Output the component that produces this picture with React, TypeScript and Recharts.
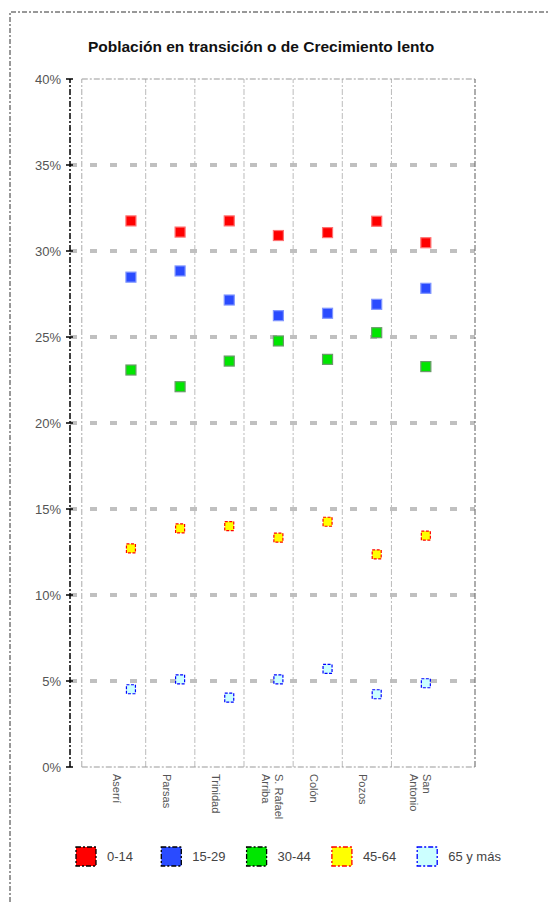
import React from "react";
import { ReferenceLine, Scatter, ScatterChart, XAxis, YAxis } from "recharts";

const categories = ["Aserrí", "Parsas", "Trinidad", "S. Rafael\nArriba", "Colón", "Pozos", "San\nAntonio"];
const edad0a14 = [31.75, 31.1, 31.75, 30.9, 31.07, 31.73, 30.48];
const edad15a29 = [28.48, 28.84, 27.15, 26.24, 26.38, 26.9, 27.83];
const edad30a44 = [23.08, 22.11, 23.6, 24.77, 23.7, 25.25, 23.28];
const edad45a64 = [12.71, 13.87, 14.01, 13.33, 14.26, 12.36, 13.45];
const edad65 = [4.52, 5.1, 4.03, 5.1, 5.7, 4.23, 4.87];
const yTicks = [0, 5, 10, 15, 20, 25, 30, 35, 40];

const FONT = '"Liberation Sans", Arial, sans-serif';
const X_MIN = -1.24;
const X_MAX = 7;

const series = [
  { name: "0-14", values: edad0a14, fill: "#ff0000", stroke: "#ff7070", dash: undefined, legendStroke: "#000", size: 10 },
  { name: "15-29", values: edad15a29, fill: "#2a4bff", stroke: "#7f95ff", dash: undefined, legendStroke: "#000", size: 10 },
  { name: "30-44", values: edad30a44, fill: "#00e600", stroke: "#6a9a6a", dash: undefined, legendStroke: "#000", size: 10 },
  { name: "45-64", values: edad45a64, fill: "#ffff00", stroke: "#ff0000", dash: "3 1.5", legendStroke: "#ff0000", size: 9 },
  { name: "65 y más", values: edad65, fill: "#ccffff", stroke: "#0000ff", dash: "3 1.5", legendStroke: "#0000ff", size: 9 },
];

function makeShape(s: (typeof series)[number]) {
  return (props: any) => {
    const { cx, cy } = props;
    const h = s.size / 2;
    return (
      <rect
        x={cx - h}
        y={cy - h}
        width={s.size}
        height={s.size}
        fill={s.fill}
        stroke={s.stroke}
        strokeWidth={1.2}
        strokeDasharray={s.dash}
      />
    );
  };
}

function YTick(props: any) {
  const { x, y, payload } = props;
  return (
    <g>
      <line x1={x - 4} x2={x + 3} y1={y} y2={y} stroke="#000" strokeWidth={1.5} />
      <text x={x - 9} y={y + 4.5} textAnchor="end" fontSize={13} fontFamily={FONT} fill="#555">
        {payload.value}%
      </text>
    </g>
  );
}

function XTick(props: any) {
  const { x, y, payload } = props;
  const lines = categories[payload.value].split("\n");
  const tx = x - 17.5 + (lines.length - 1) * 14.5;
  return (
    <text transform={`translate(${tx},${y + 7}) rotate(90)`} fontSize={11} fontFamily={FONT} fill="#555">
      {lines.map((l, k) => (
        <tspan key={k} x={0} dy={k === 0 ? 0 : 13}>
          {l}
        </tspan>
      ))}
    </text>
  );
}

export default function App() {
  const dividers = categories.slice(1).map((_, i) => i + 0.3);
  return (
    <div style={{ position: "absolute", left: 0, top: 0, width: 548, height: 902, background: "#fff", fontFamily: FONT }}>
      <svg width={548} height={902} style={{ position: "absolute", left: 0, top: 0 }}>
        <path d="M10 902 L10 12 L548 12" fill="none" stroke="#333" strokeWidth={1} strokeDasharray="5 2 2 2" />
      </svg>
      <div
        style={{
          position: "absolute",
          left: 0,
          width: 522,
          top: 38,
          textAlign: "center",
          fontSize: 15.5,
          fontWeight: "bold",
          color: "#111",
        }}
      >
        Población en transición o de Crecimiento lento
      </div>
      <div style={{ position: "absolute", left: 0, top: 0 }}>
        <ScatterChart width={548} height={902} margin={{ top: 79, right: 73, left: 0, bottom: 75 }}>
          <XAxis
            type="number"
            dataKey="i"
            domain={[X_MIN, X_MAX]}
            ticks={categories.map((_, i) => i)}
            allowDataOverflow
            height={60}
            axisLine={false}
            tickLine={false}
            tickSize={0}
            tickMargin={0}
            tick={<XTick />}
            interval={0}
          />
          <YAxis
            type="number"
            dataKey="v"
            domain={[0, 40]}
            ticks={yTicks}
            allowDataOverflow
            width={70}
            axisLine={false}
            tickLine={false}
            tickSize={0}
            tickMargin={0}
            tick={<YTick />}
            interval={0}
          />
          {yTicks
            .filter((t) => t > 0 && t < 40)
            .map((t) => (
              <ReferenceLine key={t} y={t} stroke="#c0c0c0" strokeWidth={4} strokeDasharray="7 13" />
            ))}
          {dividers.map((d) => (
            <ReferenceLine key={d} x={d} stroke="#bcbcbc" strokeWidth={1} strokeDasharray="6 2 2 2" />
          ))}
          <ReferenceLine
            segment={[{ x: -1, y: 40 }, { x: X_MAX, y: 40 }]}
            stroke="#999"
            strokeWidth={1}
            strokeDasharray="6 2 2 2"
          />
          <ReferenceLine
            segment={[{ x: -1, y: 0 }, { x: X_MAX, y: 0 }]}
            stroke="#999"
            strokeWidth={1}
            strokeDasharray="6 2 2 2"
          />
          <ReferenceLine x={-1} stroke="#aaa" strokeWidth={1} strokeDasharray="6 2 2 2" />
          <ReferenceLine x={X_MAX} stroke="#777" strokeWidth={1.2} strokeDasharray="6 2 2 2" />
          <ReferenceLine x={X_MIN} stroke="#000" strokeWidth={1.5} strokeDasharray="6 2 2 2" />
          {series.map((s) => (
            <Scatter
              key={s.name}
              name={s.name}
              data={s.values.map((v, i) => ({ i, v }))}
              shape={makeShape(s)}
              isAnimationActive={false}
            />
          ))}
        </ScatterChart>
      </div>
      <svg width={548} height={40} style={{ position: "absolute", left: 0, top: 840 }}>
        {series.map((s, k) => {
          const x0 = 76 + k * 85.3;
          return (
            <g key={s.name}>
              <rect
                x={x0}
                y={7}
                width={20}
                height={19}
                fill={s.fill}
                stroke={s.legendStroke}
                strokeWidth={1.3}
                strokeDasharray="5 2 2 2"
              />
              <text x={x0 + 31} y={21} fontSize={13} fontFamily={FONT} fill="#444">
                {s.name}
              </text>
            </g>
          );
        })}
      </svg>
    </div>
  );
}
